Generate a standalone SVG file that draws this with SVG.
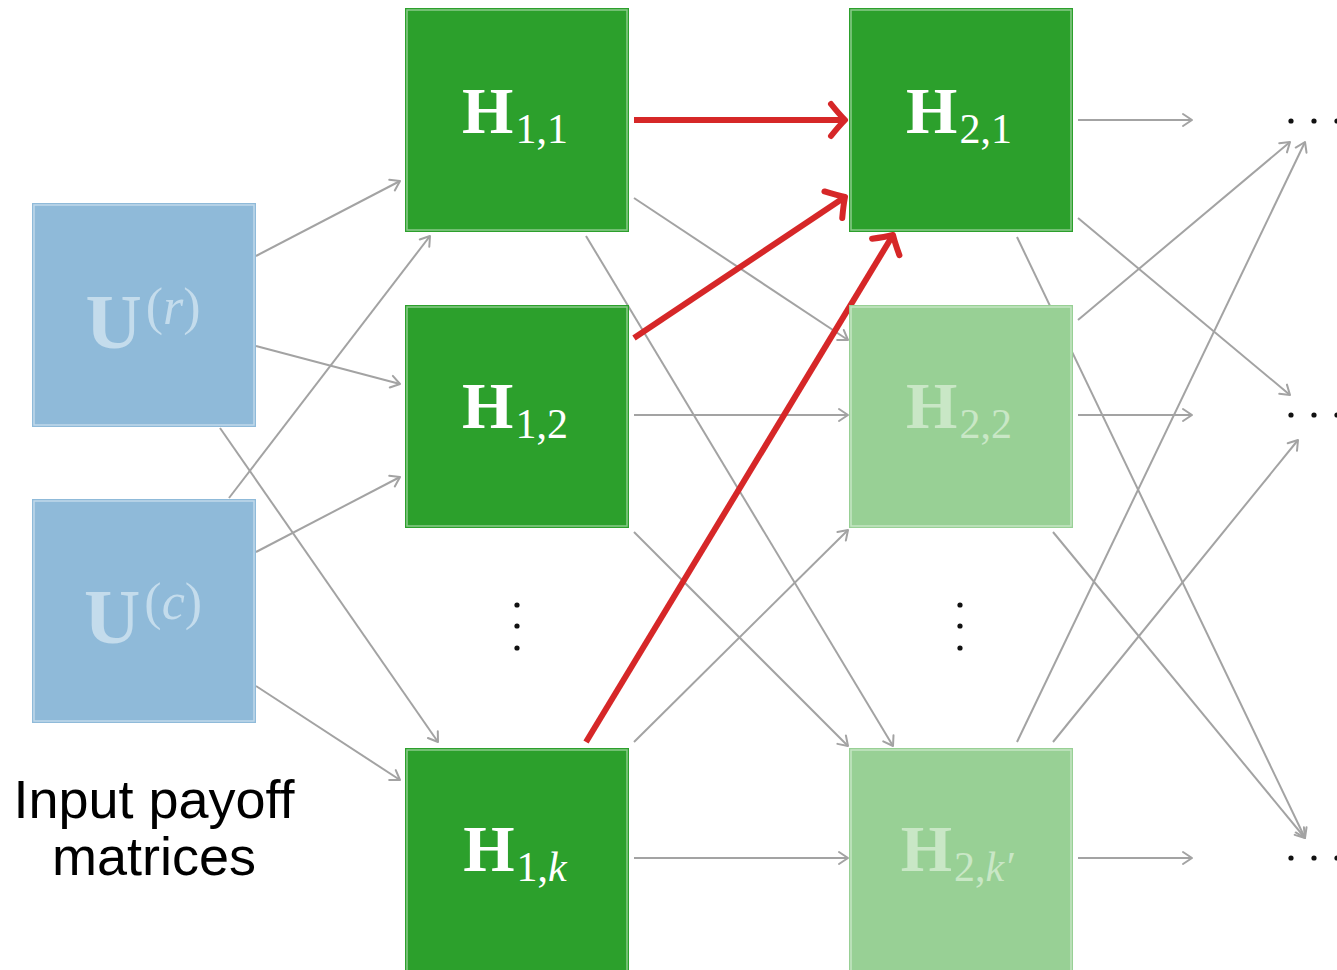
<svg xmlns="http://www.w3.org/2000/svg" width="1337" height="970" viewBox="0 0 1337 970">
  <defs>
    <style>
      .box-u { fill: #8fbad9; }
      .box-h { fill: #2ca02c; }
      .box-hl { fill: #98d095; }
      .inner { fill: none; stroke: #ffffff; stroke-opacity: 0.45; stroke-width: 1.5; }
      .lbl { font-family: "Liberation Serif", "DejaVu Serif", serif; text-anchor: middle; }
      .lbl-u { fill: #c4dcec; }
      .lbl-h { fill: #ffffff; }
      .lbl-hl { fill: #c9e7c6; }
      .edge { fill: none; stroke: #a3a3a3; stroke-width: 2; marker-end: url(#chev); }
      .hot { fill: none; stroke: #d62728; stroke-width: 6; marker-end: url(#chev-red); }
      .dot { fill: #111111; }
      .caption { font-family: "Liberation Sans", Arial, sans-serif; font-size: 54px; fill: #000000; text-anchor: middle; }
    </style>
    <marker id="chev" markerUnits="userSpaceOnUse" markerWidth="16" markerHeight="16" refX="10" refY="6" orient="auto" viewBox="-2 -2 16 16">
      <path d="M1,0 L10,6 L1,12" fill="none" stroke="#a3a3a3" stroke-width="2" stroke-linecap="round" stroke-linejoin="round"/>
    </marker>
    <marker id="chev-red" markerUnits="userSpaceOnUse" markerWidth="40" markerHeight="40" refX="16" refY="16" orient="auto" viewBox="-4 -4 40 40">
      <path d="M2,0 Q10,10 16,16 Q10,22 2,32" fill="none" stroke="#d62728" stroke-width="6" stroke-linecap="round" stroke-linejoin="round"/>
    </marker>
  </defs>

  <rect width="1337" height="970" fill="#ffffff"/>

  <!-- connectors -->
  <g id="connectors">
    <!-- inputs to first layer -->
    <line class="edge" x1="256" y1="256" x2="400" y2="181"/>
    <line class="edge" x1="256" y1="346" x2="400" y2="384"/>
    <line class="edge" x1="220" y1="428" x2="438" y2="742"/>
    <line class="edge" x1="229" y1="498" x2="430" y2="236"/>
    <line class="edge" x1="256" y1="552" x2="400" y2="477"/>
    <line class="edge" x1="256" y1="686" x2="400" y2="780"/>
    <!-- first layer to second layer -->
    <line class="edge" x1="634" y1="198" x2="848" y2="340"/>
    <line class="edge" x1="586" y1="236" x2="893" y2="746"/>
    <line class="edge" x1="634" y1="415" x2="848" y2="415"/>
    <line class="edge" x1="634" y1="532" x2="848" y2="746"/>
    <line class="edge" x1="634" y1="742" x2="848" y2="530"/>
    <line class="edge" x1="634" y1="858" x2="848" y2="858"/>
    <!-- second layer onward -->
    <line class="edge" x1="1078" y1="120" x2="1192" y2="120"/>
    <line class="edge" x1="1078" y1="218" x2="1290" y2="395"/>
    <line class="edge" x1="1017" y1="237" x2="1305" y2="838"/>
    <line class="edge" x1="1078" y1="320" x2="1290" y2="142"/>
    <line class="edge" x1="1078" y1="415" x2="1192" y2="415"/>
    <line class="edge" x1="1053" y1="532" x2="1305" y2="838"/>
    <line class="edge" x1="1017" y1="742" x2="1305" y2="142"/>
    <line class="edge" x1="1053" y1="742" x2="1298" y2="440"/>
    <line class="edge" x1="1078" y1="858" x2="1192" y2="858"/>
    <!-- highlighted paths -->
    <line class="hot" x1="634" y1="120" x2="845" y2="120"/>
    <line class="hot" x1="634" y1="338" x2="845" y2="197"/>
    <line class="hot" x1="586" y1="742" x2="893" y2="235"/>
  </g>

  <!-- input nodes -->
  <g id="u-r">
    <rect class="box-u" x="32" y="203" width="224" height="224"/>
    <rect class="inner" x="34" y="205" width="220" height="220"/>
    <text class="lbl lbl-u" x="143" y="348" font-size="78" font-weight="bold">U<tspan font-size="52" font-weight="normal" dx="4" dy="-24">(<tspan font-style="italic">r</tspan>)</tspan></text>
  </g>
  <g id="u-c">
    <rect class="box-u" x="32" y="499" width="224" height="224"/>
    <rect class="inner" x="34" y="501" width="220" height="220"/>
    <text class="lbl lbl-u" x="143" y="643" font-size="78" font-weight="bold">U<tspan font-size="52" font-weight="normal" dx="4" dy="-24">(<tspan font-style="italic">c</tspan>)</tspan></text>
  </g>

  <!-- first hidden layer -->
  <g id="h-1-1">
    <rect class="box-h" x="405" y="8" width="224" height="224"/>
    <rect class="inner" x="407" y="10" width="220" height="220"/>
    <text class="lbl lbl-h" x="515" y="133" font-size="66" font-weight="bold">H<tspan font-size="42" font-weight="normal" dx="2" dy="10">1,1</tspan></text>
  </g>
  <g id="h-1-2">
    <rect class="box-h" x="405" y="305" width="224" height="223"/>
    <rect class="inner" x="407" y="307" width="220" height="219"/>
    <text class="lbl lbl-h" x="515" y="428" font-size="66" font-weight="bold">H<tspan font-size="42" font-weight="normal" dx="2" dy="10">1,2</tspan></text>
  </g>
  <g id="h-1-dots">
    <circle class="dot" cx="517" cy="605" r="2.6"/>
    <circle class="dot" cx="517" cy="626" r="2.6"/>
    <circle class="dot" cx="517" cy="648" r="2.6"/>
  </g>
  <g id="h-1-k">
    <rect class="box-h" x="405" y="748" width="224" height="222"/>
    <rect class="inner" x="407" y="750" width="220" height="222"/>
    <text class="lbl lbl-h" x="515" y="871" font-size="66" font-weight="bold">H<tspan font-size="42" font-weight="normal" dx="2" dy="10">1,<tspan font-style="italic">k</tspan></tspan></text>
  </g>

  <!-- second hidden layer -->
  <g id="h-2-1">
    <rect class="box-h" x="849" y="8" width="224" height="224"/>
    <rect class="inner" x="851" y="10" width="220" height="220"/>
    <text class="lbl lbl-h" x="959" y="133" font-size="66" font-weight="bold">H<tspan font-size="42" font-weight="normal" dx="2" dy="10">2,1</tspan></text>
  </g>
  <g id="h-2-2">
    <rect class="box-hl" x="849" y="305" width="224" height="223"/>
    <rect class="inner" x="851" y="307" width="220" height="219"/>
    <text class="lbl lbl-hl" x="959" y="428" font-size="66" font-weight="bold">H<tspan font-size="42" font-weight="normal" dx="2" dy="10">2,2</tspan></text>
  </g>
  <g id="h-2-dots">
    <circle class="dot" cx="960" cy="605" r="2.6"/>
    <circle class="dot" cx="960" cy="626" r="2.6"/>
    <circle class="dot" cx="960" cy="648" r="2.6"/>
  </g>
  <g id="h-2-k">
    <rect class="box-hl" x="849" y="748" width="224" height="222"/>
    <rect class="inner" x="851" y="750" width="220" height="222"/>
    <text class="lbl lbl-hl" x="957" y="871" font-size="66" font-weight="bold">H<tspan font-size="42" font-weight="normal" dx="2" dy="10">2,<tspan font-style="italic">k′</tspan></tspan></text>
  </g>

  <!-- continuation marks -->
  <g id="more-1">
    <circle class="dot" cx="1291" cy="121" r="2.6"/>
    <circle class="dot" cx="1314" cy="121" r="2.6"/>
    <circle class="dot" cx="1337" cy="121" r="2.6"/>
  </g>
  <g id="more-2">
    <circle class="dot" cx="1291" cy="415" r="2.6"/>
    <circle class="dot" cx="1314" cy="415" r="2.6"/>
    <circle class="dot" cx="1337" cy="415" r="2.6"/>
  </g>
  <g id="more-k">
    <circle class="dot" cx="1291" cy="858" r="2.6"/>
    <circle class="dot" cx="1314" cy="858" r="2.6"/>
    <circle class="dot" cx="1337" cy="858" r="2.6"/>
  </g>

  <!-- caption -->
  <g id="caption">
    <text class="caption" x="154" y="818">Input payoff</text>
    <text class="caption" x="154" y="875">matrices</text>
  </g>
</svg>
